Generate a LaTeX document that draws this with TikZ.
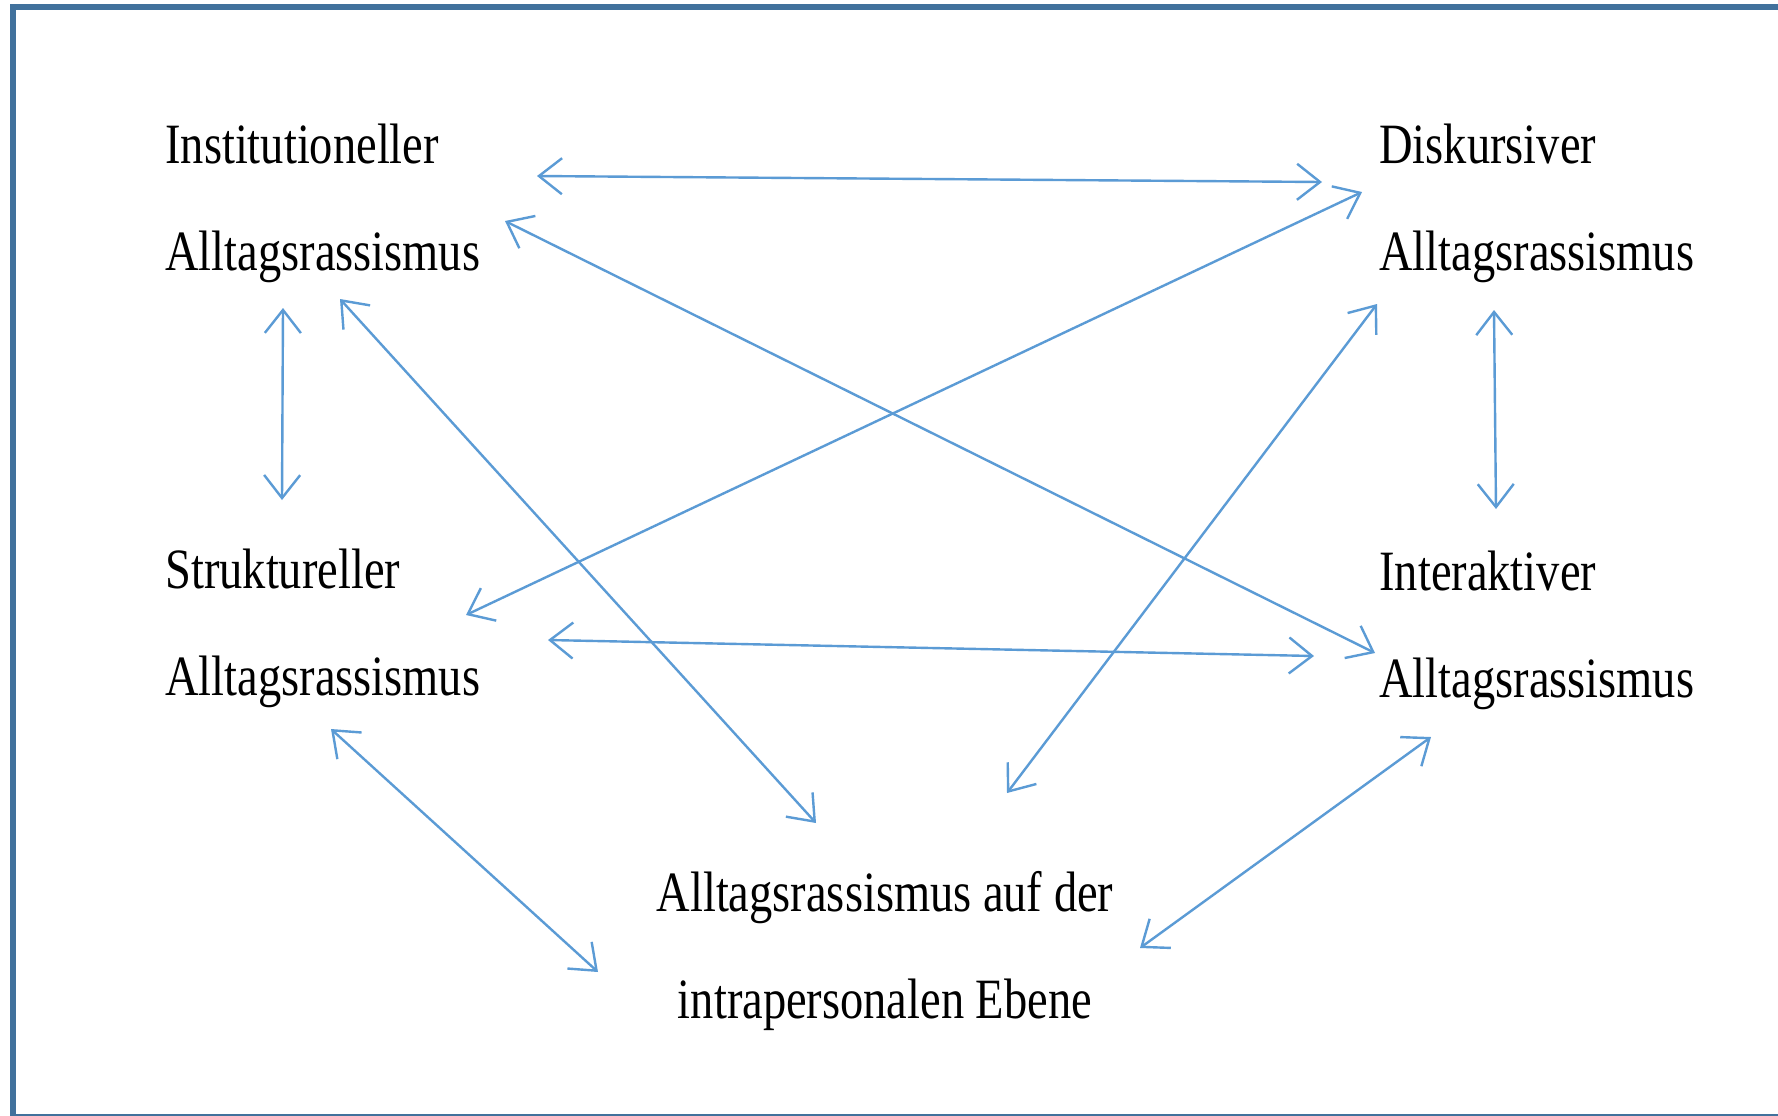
\documentclass[tikz,border=0pt]{standalone}
\usepackage{fontspec}
\setmainfont{Liberation Serif}
\usetikzlibrary{arrows.meta}
\newcommand\sq[1]{\scalebox{0.815}[1]{#1}}
\definecolor{frameblue}{HTML}{41719C}
\definecolor{arrowblue}{HTML}{5B9BD5}
\begin{document}
\begin{tikzpicture}[x=0.5pt,y=-0.5pt,
  concept/.style={inner sep=0pt, font=\fontsize{28.5}{53.5}\selectfont, align=left, anchor=base west},
  link/.style={draw=arrowblue, line width=1.2pt,
    {Straight Barb[length=11.5pt,width=18pt]}-{Straight Barb[length=11.5pt,width=18pt]}}]
\useasboundingbox (0,0) rectangle (1778,1115);
\fill[white] (0,0) rectangle (1778,1115);
\begin{scope}
\clip (0,0) rectangle (1778,1115);
\draw[frameblue, line width=3pt] (13,7) rectangle (1800,1117);
\end{scope}

\node[concept] (inst) at (165,270) {\sq{Institutioneller}\\\sq{Alltagsrassismus}};
\node[concept] (disk) at (1379,270) {\sq{Diskursiver}\\\sq{Alltagsrassismus}};
\node[concept] (struk) at (165,695) {\sq{Struktureller}\\\sq{Alltagsrassismus}};
\node[concept] (inter) at (1379,697) {\sq{Interaktiver}\\\sq{Alltagsrassismus}};
\node[concept, align=center, anchor=base] (intra) at (885,1018) {\sq{Alltagsrassismus auf der}\\\sq{intrapersonalen Ebene}};

% arrow end points
\coordinate (a1) at (537,176);  \coordinate (b1) at (1322,182);
\coordinate (a2) at (505,221);  \coordinate (b2) at (1375,653);
\coordinate (a3) at (340,299);  \coordinate (b3) at (816,823);
\coordinate (a4) at (283,308);  \coordinate (b4) at (282,500);
\coordinate (a5) at (1362,192); \coordinate (b5) at (466,615);
\coordinate (a6) at (1377,304); \coordinate (b6) at (1007,793);
\coordinate (a7) at (1494,310); \coordinate (b7) at (1496,509);
\coordinate (a8) at (548,640);  \coordinate (b8) at (1314,656);
\coordinate (a9) at (331,729);  \coordinate (b9) at (598,972);
\coordinate (a10) at (1431,737); \coordinate (b10) at (1140,948);

\draw[link] (a1) -- (b1);
\draw[link] (a2) -- (b2);
\draw[link] (a3) -- (b3);
\draw[link] (a4) -- (b4);
\draw[link] (a5) -- (b5);
\draw[link] (a6) -- (b6);
\draw[link] (a7) -- (b7);
\draw[link] (a8) -- (b8);
\draw[link] (a9) -- (b9);
\draw[link] (a10) -- (b10);
\end{tikzpicture}
\end{document}
